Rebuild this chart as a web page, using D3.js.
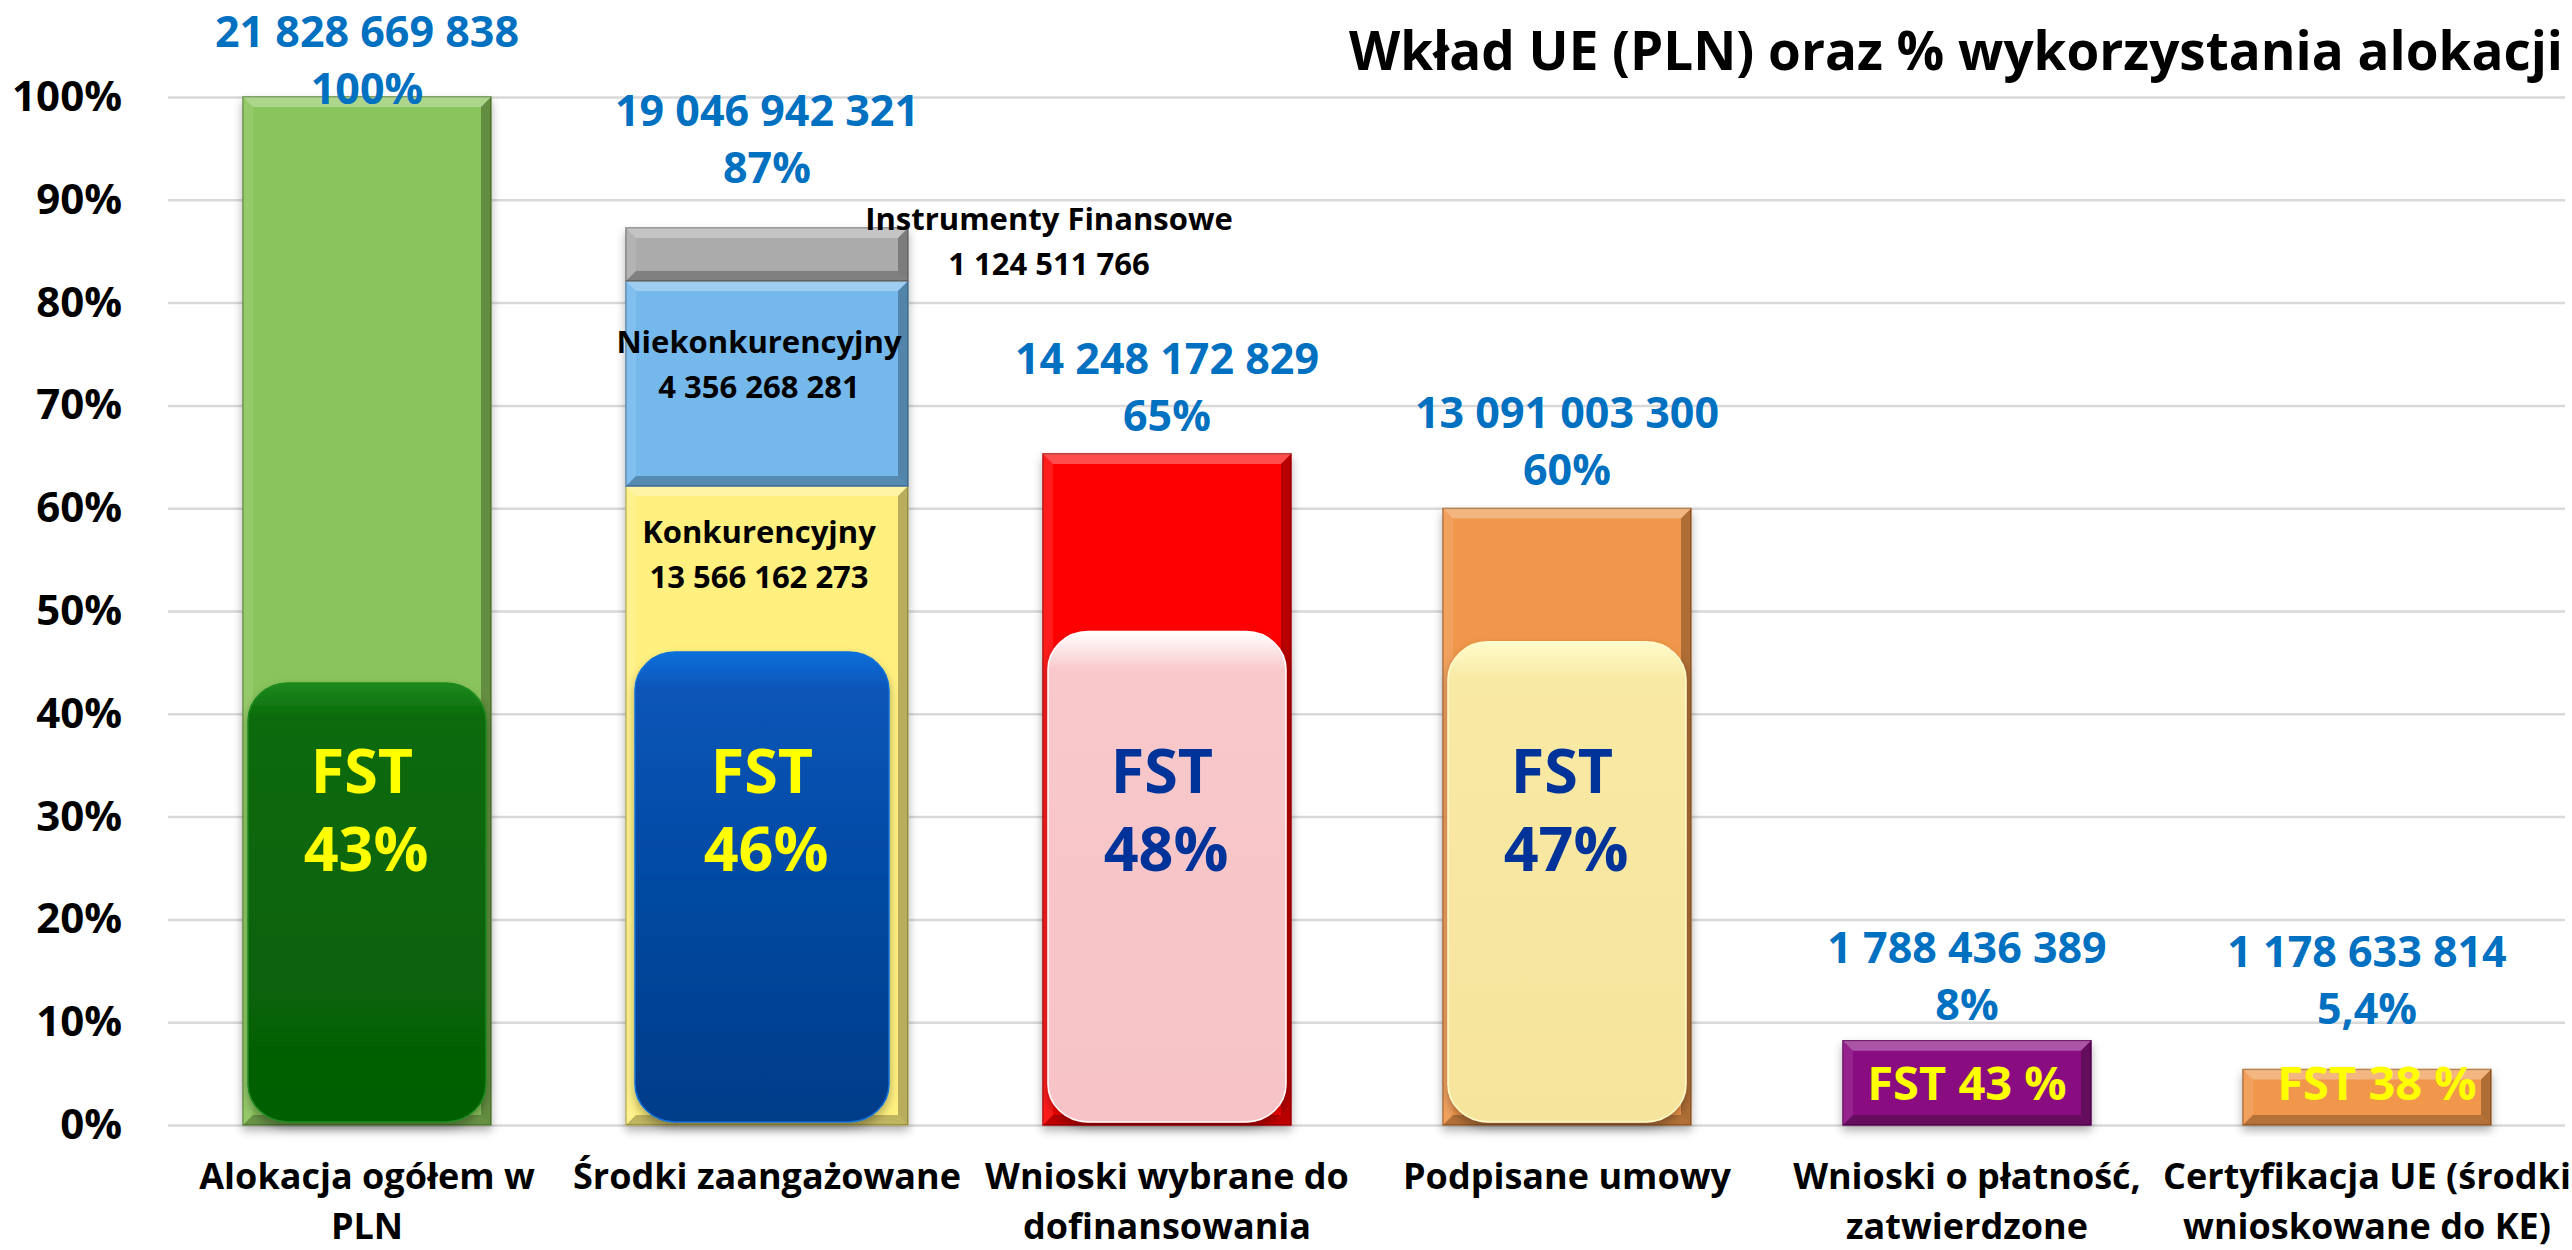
<!DOCTYPE html>
<html>
<head>
<meta charset="utf-8">
<script src="https://cdn.jsdelivr.net/npm/d3@7"></script>
<style>
  body { margin: 0; background: #fff; }
  svg { display: block; }
  text { font-family: 'Open Sans', sans-serif; font-weight: bold; }
</style>
</head>
<body>
<svg id="chart" width="2572" height="1250"></svg>
<script>
// =========================
// DATA
// =========================
const allocation = 21828669838;

const categories = [
  ["Alokacja ogółem w", "PLN"],
  ["Środki zaangażowane"],
  ["Wnioski wybrane do", "dofinansowania"],
  ["Podpisane umowy"],
  ["Wnioski o płatność,", "zatwierdzone"],
  ["Certyfikacja UE (środki", "wnioskowane do KE)"]
];

const amounts = [21828669838, 19046942321, 14248172829, 13091003300, 1788436389, 1178633814];
const pctLabels = ["100%", "87%", "65%", "60%", "8%", "5,4%"];

// FST share inside each bar
const fstShares = [0.43, 0.46, 0.48, 0.47, 0.43, 0.38];
const fstLabels = ["43%", "46%", "48%", "47%", "43 %", "38 %"];

// stacked bar "Środki zaangażowane"
const stackNames = ["Konkurencyjny", "Niekonkurencyjny", "Instrumenty Finansowe"];
const stackAmounts = [13566162273, 4356268281, 1124511766];

const yTicks = [0, 0.1, 0.2, 0.3, 0.4, 0.5, 0.6, 0.7, 0.8, 0.9, 1];

// =========================
// STYLE / LAYOUT
// =========================
const barColors = ["#8AC45B", null, "#FF0000", "#F0974B", "#890C80", "#F0974B"];
const stackColors = ["#FFF07F", "#74B8EC", "#ABABAB"];
const innerGrad = [
  ["#1E8A1E", "#0B6A0B", "#055F05"],
  ["#0B6FDB", "#0755B8", "#053C88"],
  ["#FFFFFF", "#F8C8CB", "#F7C3C6"],
  ["#FFFCCB", "#F8E9A4", "#F6E49C"]
];
const fstColors = ["#FFFF00", "#FFFF00", "#003399", "#003399", "#FFFF00", "#FFFF00"];
const labelLift = [-7, 45, 23, 23, 21, 45];   // pct label baseline above bar top
const blue = "#0070C0";

const fmt = d3.formatLocale({decimal: ",", thousands: " ", grouping: [3], currency: ["", ""]}).format(",d");

// =========================
// SVG SETUP
// =========================
const svg = d3.select("#chart");
const defs = svg.append("defs");

defs.append("filter").attr("id", "shadow")
  .attr("x", "-20%").attr("y", "-20%").attr("width", "140%").attr("height", "140%")
  .append("feDropShadow")
  .attr("dx", 0).attr("dy", 5).attr("stdDeviation", 5)
  .attr("flood-color", "#000").attr("flood-opacity", 0.3);

innerGrad.forEach((stops, i) => {
  const g = defs.append("linearGradient").attr("id", "inner" + i)
    .attr("x1", 0).attr("x2", 0).attr("y1", 0).attr("y2", 1);
  g.append("stop").attr("offset", "0").attr("stop-color", stops[0]);
  g.append("stop").attr("offset", "0.08").attr("stop-color", stops[1]);
  g.append("stop").attr("offset", "1").attr("stop-color", stops[2]);
});

// =========================
// SCALES
// =========================
const x = d3.scaleBand()
  .domain(d3.range(categories.length))
  .range([167, 2567])
  .paddingInner(0.38)
  .paddingOuter(0.19);

const y = d3.scaleLinear()
  .domain([0, 1])
  .range([1125, 97]);

// =========================
// AXES / GRID
// =========================
const yAxis = svg.append("g")
  .attr("transform", "translate(168,0)")
  .call(d3.axisLeft(y)
    .tickValues(yTicks)
    .tickFormat(d3.format(".0%"))
    .tickSize(-(2565 - 168))
    .tickPadding(46));
yAxis.select(".domain").remove();
yAxis.selectAll("line").attr("stroke", "#D9D9D9").attr("stroke-width", 2.5);
yAxis.selectAll("text")
  .attr("fill", "#000")
  .style("font-size", "42px")
  .style("font-family", "'Open Sans', sans-serif")
  .style("font-weight", "bold");

// category labels
const xAxis = svg.append("g")
  .attr("transform", `translate(0,${y(0)})`)
  .call(d3.axisBottom(x).tickSize(0).tickFormat(""));
xAxis.select(".domain").remove();
xAxis.selectAll(".tick").each(function(i) {
  const t = d3.select(this).append("text")
    .attr("fill", "#000")
    .attr("text-anchor", "middle")
    .style("font-size", "36px");
  categories[i].forEach((line, k) => {
    t.append("tspan").attr("x", 0).attr("y", 64 + k * 50).text(line);
  });
});

// =========================
// BARS
// =========================
function bevelBar(g, x0, y0, w, h, color) {
  const b = Math.min(10, h / 3);
  g.append("rect")
    .attr("x", x0).attr("y", y0).attr("width", w).attr("height", h)
    .attr("fill", color)
    .attr("stroke", d3.color(color).darker(0.9))
    .attr("stroke-width", 1.5);
  g.append("path")
    .attr("d", `M${x0},${y0}L${x0 + w},${y0}L${x0 + w - b},${y0 + b}L${x0 + b},${y0 + b}Z`)
    .attr("fill", "#fff").attr("opacity", 0.3);
  g.append("path")
    .attr("d", `M${x0},${y0}L${x0 + b},${y0 + b}L${x0 + b},${y0 + h - b}L${x0},${y0 + h}Z`)
    .attr("fill", "#fff").attr("opacity", 0.1);
  g.append("path")
    .attr("d", `M${x0 + w},${y0}L${x0 + w - b},${y0 + b}L${x0 + w - b},${y0 + h - b}L${x0 + w},${y0 + h}Z`)
    .attr("fill", "#000").attr("opacity", 0.28);
  g.append("path")
    .attr("d", `M${x0},${y0 + h}L${x0 + b},${y0 + h - b}L${x0 + w - b},${y0 + h - b}L${x0 + w},${y0 + h}Z`)
    .attr("fill", "#000").attr("opacity", 0.25);
}

const bars = svg.append("g");

amounts.forEach((v, i) => {
  const g = bars.append("g").attr("filter", "url(#shadow)");
  if (i === 1) {
    // stacked bar, drawn slightly wider like in the original
    const extra = 17;
    let acc = 0;
    stackAmounts.forEach((s, k) => {
      const y0 = y((acc + s) / allocation);
      const y1 = y(acc / allocation);
      bevelBar(g, x(i) - extra, y0, x.bandwidth() + 2 * extra, y1 - y0, stackColors[k]);
      acc += s;
    });
  } else {
    bevelBar(g, x(i), y(v / allocation), x.bandwidth(), y(0) - y(v / allocation), barColors[i]);
  }
});

// inner FST rounded bars (first four categories)
bars.selectAll(".fst")
  .data(fstShares.slice(0, 4))
  .enter()
  .append("rect")
  .attr("class", "fst")
  .attr("x", (d, i) => x(i) + (i === 1 ? -8 : 5))
  .attr("width", (d, i) => x.bandwidth() - 10 + (i === 1 ? 16 : 0))
  .attr("y", d => y(d))
  .attr("height", d => y(0.003) - y(d))
  .attr("rx", 40).attr("ry", 38)
  .attr("fill", (d, i) => `url(#inner${i})`)
  .attr("stroke", (d, i) => innerGrad[i][0])
  .attr("stroke-width", 1.5)
  .attr("filter", "url(#shadow)");

// =========================
// FST LABELS
// =========================
fstLabels.forEach((lab, i) => {
  const cx = x(i) + x.bandwidth() / 2;
  if (i < 4) {
    svg.append("text")
      .attr("x", cx - 5).attr("y", y(0.323))
      .attr("text-anchor", "middle")
      .attr("fill", fstColors[i])
      .style("font-size", "61px")
      .text("FST");
    svg.append("text")
      .attr("x", cx - 1).attr("y", y(0.247))
      .attr("text-anchor", "middle")
      .attr("fill", fstColors[i])
      .style("font-size", "61px")
      .text(lab);
  } else {
    svg.append("text")
      .attr("x", cx + (i === 5 ? 10 : 0)).attr("y", y(0.024))
      .attr("text-anchor", "middle")
      .attr("fill", fstColors[i])
      .style("font-size", "47px")
      .text("FST " + lab);
  }
});

// =========================
// VALUE LABELS (above bars)
// =========================
amounts.forEach((v, i) => {
  const cx = x(i) + x.bandwidth() / 2;
  const base = y(v / allocation) - labelLift[i];
  svg.append("text")
    .attr("x", cx).attr("y", base - 57)
    .attr("text-anchor", "middle")
    .attr("fill", blue)
    .style("font-size", "43px")
    .text(fmt(v));
  svg.append("text")
    .attr("x", cx).attr("y", base)
    .attr("text-anchor", "middle")
    .attr("fill", blue)
    .style("font-size", "43px")
    .text(pctLabels[i]);
});

// =========================
// STACK SEGMENT LABELS
// =========================
{
  const cx = x(1) + x.bandwidth() / 2 - 8;
  const segTop = k => y(d3.sum(stackAmounts.slice(0, k + 1)) / allocation);
  const drop = [57, 72];
  [0, 1].forEach(k => {
    svg.append("text")
      .attr("x", cx).attr("y", segTop(k) + drop[k])
      .attr("text-anchor", "middle").attr("fill", "#000")
      .style("font-size", "31px")
      .text(stackNames[k]);
    svg.append("text")
      .attr("x", cx).attr("y", segTop(k) + drop[k] + 45)
      .attr("text-anchor", "middle").attr("fill", "#000")
      .style("font-size", "31px")
      .text(fmt(stackAmounts[k]));
  });
  const rx = x(1) + x.bandwidth() + 17 + 141;
  svg.append("text")
    .attr("x", rx).attr("y", segTop(2) + 2)
    .attr("text-anchor", "middle").attr("fill", "#000")
    .style("font-size", "31px")
    .text(stackNames[2]);
  svg.append("text")
    .attr("x", rx).attr("y", segTop(2) + 47)
    .attr("text-anchor", "middle").attr("fill", "#000")
    .style("font-size", "31px")
    .text(fmt(stackAmounts[2]));
}

// =========================
// TITLE
// =========================
svg.append("text")
  .attr("x", 2563).attr("y", 70)
  .attr("text-anchor", "end")
  .attr("fill", "#000")
  .style("font-size", "53px")
  .text("Wkład UE (PLN) oraz % wykorzystania alokacji");
</script>
</body>
</html>
